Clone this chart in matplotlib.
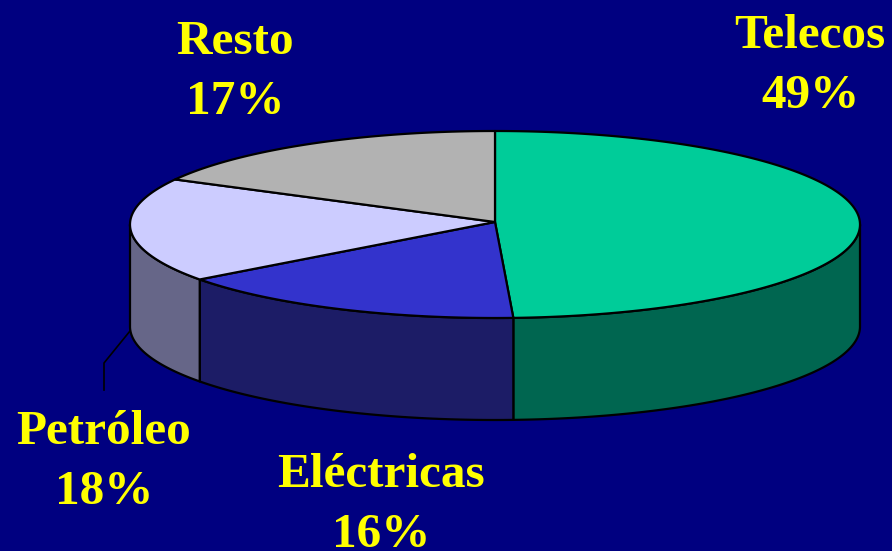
import numpy as np
import matplotlib
matplotlib.use('Agg')
import matplotlib.pyplot as plt
from matplotlib.patches import Polygon

labels = ['Telecos', 'Eléctricas', 'Petróleo', 'Resto']
values = [49.2, 15.8, 18, 17]
top_colors = ['#00cc99', '#3333cc', '#ccccff', '#b2b2b2']
side_colors = ['#006650', '#1c1c66', '#666688', '#59595a']
label_pos = [(810, 66), (381, 505), (104, 462), (235, 72)]

cx, cy = 495, 224.5
apex_y = 222
rx, ry = 365, 93.5
depth = 102


def rim(start, end):
    # angles in degrees, clockwise from the top of the pie
    t = np.radians(np.linspace(start, end, max(int(abs(end - start)) * 2, 2)))
    return cx + rx * np.sin(t), cy - ry * np.cos(t)


fig = plt.figure(figsize=(8.92, 5.51), dpi=100, facecolor='#000080')
ax = fig.add_axes([0, 0, 1, 1])
ax.set_xlim(0, 892)
ax.set_ylim(551, 0)
ax.axis('off')

edges = np.concatenate([[0], np.cumsum(values)]) * 3.6

# side walls, only the front half of the pie shows them
for i in range(len(values)):
    a = max(edges[i], 90)
    b = min(edges[i + 1], 270)
    if a >= b:
        continue
    x, y = rim(a, b)
    pts = np.vstack([np.c_[x, y], np.c_[x[::-1], y[::-1] + depth]])
    ax.add_patch(Polygon(pts, closed=True, fc=side_colors[i], ec='black', lw=1.6, joinstyle='round'))

# top slices
for i in range(len(values)):
    x, y = rim(edges[i], edges[i + 1])
    pts = np.vstack([[cx, apex_y], np.c_[x, y]])
    ax.add_patch(Polygon(pts, closed=True, fc=top_colors[i], ec='black', lw=1.6, joinstyle='round'))

# leader line for Petróleo
ax.plot([130, 104, 104], [331, 363, 390], color='black', lw=1.2)

for name, val, (px, py) in zip(labels, values, label_pos):
    ax.text(px, py, f'{name}\n{val:.0f}%', color='#ffff00', family='Liberation Serif',
            fontweight='bold', fontsize=35.5, ha='center', va='center', linespacing=1.49)

fig.savefig('out.png', dpi=100, facecolor=fig.get_facecolor())
